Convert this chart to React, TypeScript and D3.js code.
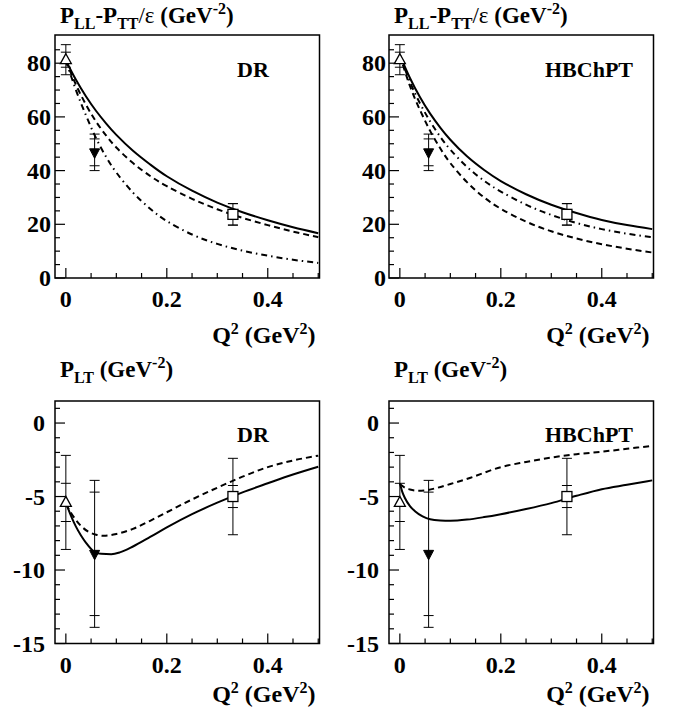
import React from "react";
import * as d3 from "d3";

// ---------- data ----------
type P = [number, number];

// Top panels: P_LL - P_TT/eps
const llDR_solid: P[] = [[0,81],[0.02,73.8],[0.04,67.6],[0.06,62.2],[0.08,57.5],[0.1,53.3],[0.133,47.4],[0.167,42.3],[0.2,37.9],[0.25,32.5],[0.3,28.1],[0.35,24.5],[0.4,21.5],[0.45,18.9],[0.5,16.7]];
const llDR_dashed: P[] = [[0,81],[0.02,72],[0.04,64.5],[0.06,58.2],[0.08,53],[0.1,48.6],[0.133,42.8],[0.167,38.0],[0.2,34.2],[0.25,29.5],[0.3,25.6],[0.35,22.4],[0.4,19.7],[0.45,17.3],[0.5,15.2]];
const llDR_dashdot: P[] = [[0,81],[0.02,70],[0.04,60.5],[0.06,52],[0.08,45],[0.1,39.3],[0.133,31.8],[0.167,25.8],[0.2,21.2],[0.25,16.2],[0.3,12.7],[0.35,10.2],[0.4,8.3],[0.45,6.8],[0.5,5.6]];

const llHB_solid: P[] = [[0,83],[0.02,74.5],[0.04,67.3],[0.06,61.2],[0.08,56],[0.1,51.5],[0.133,45.3],[0.167,40.2],[0.2,36.1],[0.25,31.2],[0.3,27.3],[0.35,24.2],[0.4,21.6],[0.45,19.7],[0.5,18.2]];
const llHB_dashdot: P[] = [[0,83],[0.02,73],[0.04,65],[0.06,58.3],[0.08,52.6],[0.1,47.8],[0.133,41.4],[0.167,36.2],[0.2,32.2],[0.25,27.3],[0.3,23.5],[0.35,20.5],[0.4,18.2],[0.45,16.5],[0.5,15.2]];
const llHB_dashed: P[] = [[0,83],[0.02,71.5],[0.04,62.5],[0.06,54.8],[0.08,48.3],[0.1,42.8],[0.133,35.7],[0.167,30.0],[0.2,25.8],[0.25,21.0],[0.3,17.4],[0.35,14.7],[0.4,12.6],[0.45,10.9],[0.5,9.5]];

// Bottom panels: P_LT
const ltDR_solid: P[] = [[0,-5.4],[0.01,-6.3],[0.02,-7.05],[0.03,-7.65],[0.04,-8.15],[0.057,-8.78],[0.07,-8.9],[0.09,-8.92],[0.107,-8.8],[0.133,-8.4],[0.167,-7.75],[0.2,-7.1],[0.25,-6.2],[0.3,-5.42],[0.35,-4.72],[0.4,-4.1],[0.45,-3.5],[0.5,-2.97]];
const ltDR_dashed: P[] = [[0,-5.5],[0.01,-6.1],[0.02,-6.6],[0.03,-7.0],[0.045,-7.4],[0.06,-7.6],[0.075,-7.67],[0.1,-7.55],[0.133,-7.2],[0.167,-6.65],[0.2,-6.07],[0.25,-5.2],[0.3,-4.4],[0.35,-3.65],[0.4,-3.0],[0.45,-2.55],[0.5,-2.22]];

const ltHB_solid: P[] = [[0,-4.1],[0.005,-4.7],[0.01,-5.1],[0.02,-5.65],[0.03,-6.0],[0.045,-6.35],[0.06,-6.55],[0.08,-6.63],[0.1,-6.65],[0.133,-6.57],[0.167,-6.4],[0.2,-6.2],[0.25,-5.85],[0.3,-5.45],[0.35,-4.95],[0.4,-4.5],[0.45,-4.2],[0.5,-3.9]];
const ltHB_dashed: P[] = [[0,-4.15],[0.01,-4.4],[0.02,-4.52],[0.035,-4.6],[0.05,-4.58],[0.075,-4.4],[0.1,-4.15],[0.14,-3.72],[0.2,-3.0],[0.25,-2.65],[0.3,-2.35],[0.35,-2.12],[0.4,-1.95],[0.45,-1.75],[0.5,-1.55]];

// data points: value, inner error, outer error
type DP = { q: number; v: number; e1: number; e2: number; kind: "triUp" | "triDown" | "square" };
const llPoints: DP[] = [
  { q: 0, v: 81.3, e1: 2.8, e2: 5.6, kind: "triUp" },
  { q: 0.057, v: 46.8, e1: 5.0, e2: 6.8, kind: "triDown" },
  { q: 0.331, v: 23.7, e1: 4.0, e2: 4.0, kind: "square" },
];
const ltPoints: DP[] = [
  { q: 0, v: -5.4, e1: 1.3, e2: 3.2, kind: "triUp" },
  { q: 0.057, v: -8.9, e1: 4.2, e2: 5.0, kind: "triDown" },
  { q: 0.331, v: -5.0, e1: 0.75, e2: 2.6, kind: "square" },
];

const xMajor = [0, 0.2, 0.4];
const xMajorLabels = ["0", "0.2", "0.4"];
const llMajor = [0, 20, 40, 60, 80];
const ltMajor = [0, -5, -10, -15];

// ---------- layout ----------
const FONT = "Liberation Serif, Times New Roman, serif";
const XDOM: [number, number] = [-0.0215, 0.5025];

type Curve = { pts: P[]; dash: string | null; w: number };

interface PanelProps {
  left: number;
  top: number;
  width: number;
  height: number;
  ydom: [number, number];
  majors: number[];
  minorStep: number;
  curves: Curve[];
  points: DP[];
  label: string;
  labelX: number;
  labelY: number;
  yLabelGap: number;
  titleKind: "ll" | "lt";
  titleY: number;
  qTitleY: number;
  curveType: d3.CurveFactory;
}

function Panel(p: PanelProps) {
  const x = d3.scaleLinear().domain(XDOM).range([p.left, p.left + p.width]);
  const y = d3.scaleLinear().domain(p.ydom).range([p.top + p.height, p.top]);
  const bottom = p.top + p.height;
  const line = d3
    .line<P>()
    .x((d) => x(d[0]))
    .y((d) => y(d[1]))
    .curve(p.curveType);
  const xMinor = d3.range(0, 0.5001, 0.05).filter((v) => !xMajor.some((m) => Math.abs(m - v) < 1e-6));
  const yMinor = d3
    .range(p.ydom[0], p.ydom[1] + 1e-6, p.minorStep)
    .map((v) => Math.round(v * 1000) / 1000)
    .filter((v) => !p.majors.some((m) => Math.abs(m - v) < 1e-6))
    .filter((v) => Math.abs(y(v) - p.top) > 2);
  const clipId = `clip-${p.left}-${p.top}`;
  const sub = 16;
  return (
    <g>
      <defs>
        <clipPath id={clipId}>
          <rect x={p.left} y={p.top} width={p.width} height={p.height} />
        </clipPath>
      </defs>
      {xMajor.map((v) => (
        <line key={"xM" + v} x1={x(v)} x2={x(v)} y1={bottom} y2={bottom - 10} stroke="#000" strokeWidth={1.2} />
      ))}
      {xMinor.map((v) => (
        <line key={"xm" + v} x1={x(v)} x2={x(v)} y1={bottom} y2={bottom - 5} stroke="#000" strokeWidth={1.2} />
      ))}
      {p.majors.map((v) => (
        <line key={"yM" + v} x1={p.left} x2={p.left + 10} y1={y(v)} y2={y(v)} stroke="#000" strokeWidth={1.2} />
      ))}
      {yMinor.map((v) => (
        <line key={"ym" + v} x1={p.left} x2={p.left + 5} y1={y(v)} y2={y(v)} stroke="#000" strokeWidth={1.2} />
      ))}
      <g clipPath={`url(#${clipId})`}>
        {p.curves.map((c, i) => (
          <path key={i} d={line(c.pts) || ""} fill="none" stroke="#000" strokeWidth={c.w} strokeDasharray={c.dash || undefined} />
        ))}
      </g>
      {p.points.map((d, i) => {
        const cx = x(d.q);
        const cy = y(d.v);
        const caps = [d.v + d.e2, d.v - d.e2, d.v + d.e1, d.v - d.e1];
        let marker: React.ReactNode = null;
        if (d.kind === "triUp") {
          marker = <path d={`M${cx},${cy - 6} L${cx + 5.5},${cy + 4} L${cx - 5.5},${cy + 4} Z`} fill="#fff" stroke="#000" strokeWidth={1.3} />;
        } else if (d.kind === "triDown") {
          marker = <path d={`M${cx},${cy + 6} L${cx + 5},${cy - 3.5} L${cx - 5},${cy - 3.5} Z`} fill="#000" stroke="#000" strokeWidth={1} />;
        } else {
          marker = <rect x={cx - 5} y={cy - 5} width={10} height={10} fill="#fff" stroke="#000" strokeWidth={1.3} />;
        }
        return (
          <g key={i}>
            <line x1={cx} x2={cx} y1={y(d.v + d.e2)} y2={y(d.v - d.e2)} stroke="#000" strokeWidth={1} />
            {caps.map((c, j) => (
              <line key={j} x1={cx - 5} x2={cx + 5} y1={y(c)} y2={y(c)} stroke="#000" strokeWidth={1} />
            ))}
            {marker}
          </g>
        );
      })}
      <rect x={p.left} y={p.top} width={p.width} height={p.height} fill="none" stroke="#000" strokeWidth={1.5} />
      {xMajor.map((v, i) => (
        <text key={"xl" + v} x={x(v)} y={bottom + 29} textAnchor="middle" fontFamily={FONT} fontWeight="bold" fontSize={24}>
          {xMajorLabels[i]}
        </text>
      ))}
      {p.majors.map((v) => (
        <text key={"yl" + v} x={p.left - p.yLabelGap} y={y(v) + 8} textAnchor="end" fontFamily={FONT} fontWeight="bold" fontSize={24}>
          {String(v)}
        </text>
      ))}
      <text x={p.labelX} y={p.labelY} fontFamily={FONT} fontWeight="bold" fontSize={22}>
        {p.label}
      </text>
      {p.titleKind === "ll" ? (
        <text x={p.left + 5} y={p.titleY} fontFamily={FONT} fontWeight="bold" fontSize={23}>
          P<tspan fontSize={sub} dy={6}>LL</tspan>
          <tspan dy={-6}>-P</tspan>
          <tspan fontSize={sub} dy={6}>TT</tspan>
          <tspan dy={-6} fontWeight="normal">/ε</tspan>
          <tspan> (GeV</tspan>
          <tspan fontSize={sub} dy={-9}>-2</tspan>
          <tspan dy={9}>)</tspan>
        </text>
      ) : (
        <text x={p.left + 5} y={p.titleY} fontFamily={FONT} fontWeight="bold" fontSize={23}>
          P<tspan fontSize={sub} dy={6}>LT</tspan>
          <tspan dy={-6}> (GeV</tspan>
          <tspan fontSize={sub} dy={-9}>-2</tspan>
          <tspan dy={9}>)</tspan>
        </text>
      )}
      <text x={p.left + p.width - 4} y={p.qTitleY} textAnchor="end" fontFamily={FONT} fontWeight="bold" fontSize={24}>
        Q<tspan fontSize={16} dy={-9}>2</tspan>
        <tspan dy={9}> (GeV</tspan>
        <tspan fontSize={16} dy={-9}>2</tspan>
        <tspan dy={9}>)</tspan>
      </text>
    </g>
  );
}

export default function App() {
  const W = 674;
  const H = 723;
  const pw = 264.5;
  const solidW = 2;
  const dashW = 2;
  const DASH = "6,4";
  const DASHDOT = "6,4,1.5,4";
  return (
    <svg width={W} height={H} style={{ position: "absolute", left: 0, top: 0, background: "#fff" }}>
      <rect x={0} y={0} width={W} height={H} fill="#fff" />
      <Panel
        left={55} top={35} width={pw} height={243} ydom={[0, 90.5]} majors={llMajor} minorStep={5}
        curves={[
          { pts: llDR_dashdot, dash: DASHDOT, w: dashW },
          { pts: llDR_dashed, dash: DASH, w: dashW },
          { pts: llDR_solid, dash: null, w: solidW },
        ]}
        points={llPoints} label="DR" labelX={237} labelY={76.5} yLabelGap={4}
        titleKind="ll" titleY={23} qTitleY={343} curveType={d3.curveNatural}
      />
      <Panel
        left={389} top={35} width={pw} height={243} ydom={[0, 90.5]} majors={llMajor} minorStep={5}
        curves={[
          { pts: llHB_dashdot, dash: DASHDOT, w: dashW },
          { pts: llHB_dashed, dash: DASH, w: dashW },
          { pts: llHB_solid, dash: null, w: solidW },
        ]}
        points={llPoints} label="HBChPT" labelX={545} labelY={76.5} yLabelGap={3}
        titleKind="ll" titleY={23} qTitleY={343} curveType={d3.curveNatural}
      />
      <Panel
        left={55} top={401} width={pw} height={242.5} ydom={[-15, 1.5]} majors={ltMajor} minorStep={1}
        curves={[
          { pts: ltDR_dashed, dash: DASH, w: dashW },
          { pts: ltDR_solid, dash: null, w: solidW },
        ]}
        points={ltPoints} label="DR" labelX={237} labelY={441.5} yLabelGap={10}
        titleKind="lt" titleY={377} qTitleY={702} curveType={d3.curveMonotoneX}
      />
      <Panel
        left={389} top={401} width={pw} height={242.5} ydom={[-15, 1.5]} majors={ltMajor} minorStep={1}
        curves={[
          { pts: ltHB_dashed, dash: DASH, w: dashW },
          { pts: ltHB_solid, dash: null, w: solidW },
        ]}
        points={ltPoints} label="HBChPT" labelX={545} labelY={441.5} yLabelGap={10}
        titleKind="lt" titleY={377} qTitleY={702} curveType={d3.curveMonotoneX}
      />
    </svg>
  );
}
